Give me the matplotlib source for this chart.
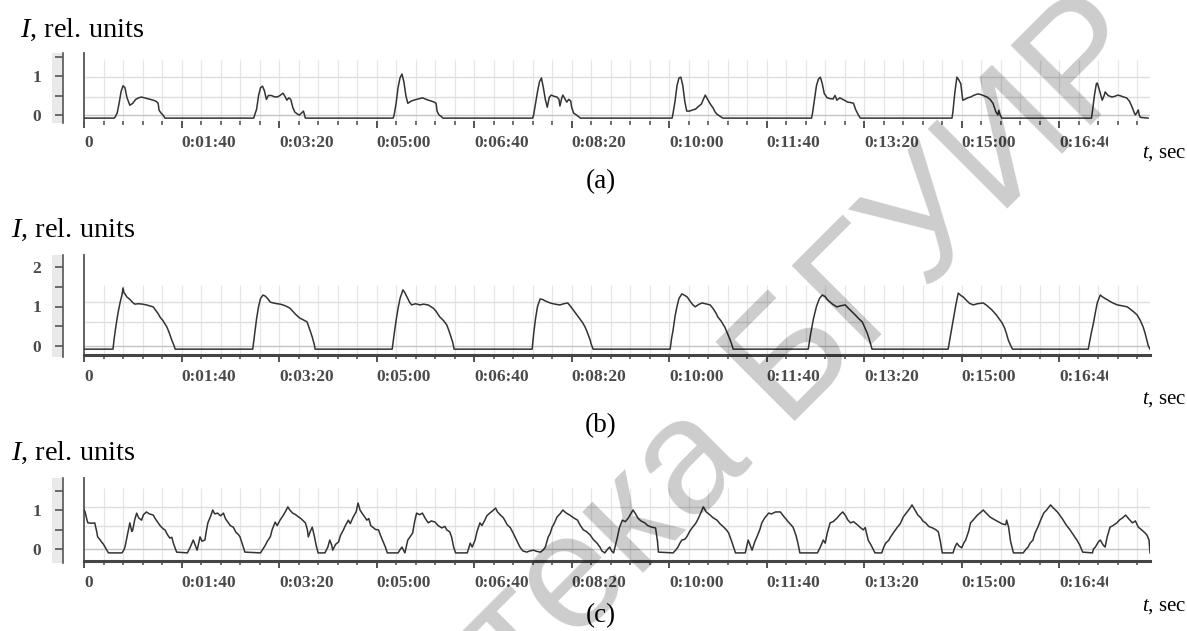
import matplotlib
matplotlib.use("Agg")
import matplotlib.pyplot as plt
from matplotlib.patches import Rectangle

plt.rcParams['font.family'] = ['Liberation Serif', 'DejaVu Serif']
plt.rcParams['mathtext.fontset'] = 'custom'
plt.rcParams['mathtext.rm'] = 'Liberation Serif'
plt.rcParams['mathtext.it'] = 'Liberation Serif:italic'

# time ticks (s) and labels
tick_times = [0, 100, 200, 300, 400, 500, 600, 700, 800, 900, 1000]
tick_labels = ["0", "0:01:40", "0:03:20", "0:05:00", "0:06:40", "0:08:20",
               "0:10:00", "0:11:40", "0:13:20", "0:15:00", "0:16:40"]
minor_times = list(range(0, 1093, 20))
t_end = 1093

# (a) signal: (t, I)
signal_a = [
    (0, -0.08), (31, -0.08), (32, -0.05), (34, 0.05), (36, 0.3), (38, 0.6), (40, 0.75), (42, 0.7),
    (44, 0.45), (47, 0.25), (50, 0.3), (53, 0.4), (56, 0.44), (59, 0.46), (62, 0.44), (65, 0.42),
    (68, 0.4), (71, 0.38), (74, 0.35), (76, 0.3), (77, 0.12), (79, 0.05), (81, 0.0), (83, -0.08),
    (174, -0.08), (175, 0.0), (177, 0.15), (179, 0.5), (181, 0.7), (183, 0.74), (185, 0.62), (187, 0.4),
    (189, 0.5), (192, 0.5), (195, 0.47), (198, 0.46), (201, 0.5), (204, 0.56), (206, 0.48), (208, 0.38),
    (210, 0.44), (212, 0.4), (214, 0.2), (216, 0.08), (219, 0.02), (221, 0.0), (223, 0.05), (225, 0.1),
    (227, -0.08),
    (317, -0.08), (318, 0.0), (320, 0.3), (322, 0.7), (324, 0.95), (326, 1.05), (328, 0.85), (330, 0.5),
    (332, 0.3), (335, 0.35), (338, 0.38), (341, 0.4), (344, 0.42), (347, 0.44), (350, 0.41), (353, 0.38),
    (356, 0.36), (359, 0.33), (361, 0.3), (362, 0.1), (364, 0.0), (366, -0.03), (368, -0.08),
    (460, -0.08), (461, 0.0), (463, 0.3), (465, 0.6), (467, 0.85), (469, 0.95), (471, 0.7), (473, 0.4),
    (475, 0.2), (477, 0.45), (479, 0.51), (482, 0.48), (485, 0.46), (487, 0.4), (488, 0.23), (490, 0.45),
    (491, 0.51), (493, 0.42), (495, 0.33), (497, 0.4), (499, 0.36), (500, 0.2), (502, 0.05), (505, 0.0),
    (509, -0.08),
    (603, -0.08), (604, 0.05), (606, 0.35), (608, 0.75), (610, 0.95), (612, 0.97), (614, 0.75), (616, 0.35),
    (618, 0.1), (621, 0.1), (624, 0.13), (627, 0.15), (630, 0.22), (633, 0.28), (635, 0.4), (637, 0.51),
    (639, 0.42), (641, 0.33), (643, 0.25), (645, 0.18), (647, 0.08), (649, 0.02), (652, -0.03), (655, -0.08),
    (746, -0.08), (747, 0.05), (749, 0.4), (751, 0.75), (753, 0.92), (755, 0.97), (757, 0.8), (759, 0.55),
    (762, 0.44), (765, 0.42), (768, 0.41), (770, 0.5), (772, 0.38), (775, 0.44), (778, 0.4), (781, 0.36),
    (783, 0.33), (786, 0.32), (789, 0.3), (791, 0.15), (794, 0.0), (796, -0.08),
    (890, -0.08), (891, 0.1), (893, 0.6), (895, 0.97), (897, 0.9), (899, 0.8), (901, 0.38), (903, 0.4),
    (906, 0.44), (909, 0.46), (912, 0.5), (915, 0.53), (917, 0.54), (920, 0.52), (923, 0.49), (926, 0.46),
    (929, 0.4), (932, 0.3), (934, 0.15), (935, 0.08), (937, 0.0), (938, 0.12), (939, 0.02), (941, -0.08),
    (1033, -0.08), (1034, 0.1), (1036, 0.5), (1038, 0.8), (1039, 0.82), (1041, 0.65), (1044, 0.38),
    (1046, 0.5), (1047, 0.59), (1050, 0.5), (1054, 0.46), (1057, 0.48), (1060, 0.51), (1063, 0.49),
    (1066, 0.46), (1069, 0.44), (1072, 0.35), (1075, 0.18), (1077, 0.05), (1078, 0.0), (1080, 0.08),
    (1081, 0.13), (1082, 0.0), (1083, -0.06), (1091, -0.08),
]

# (b) signal
signal_b = [
    (0, -0.08), (29.7, -0.08), (31, 0.2), (33, 0.55), (35, 0.85), (37, 1.1), (39, 1.3), (40, 1.47),
    (41, 1.35), (42, 1.32), (44, 1.24), (47, 1.18), (50, 1.1), (52, 1.06), (56, 1.07), (60, 1.06),
    (64, 1.04), (68, 1.01), (71, 0.99), (73, 0.92), (76, 0.82), (78, 0.73), (81, 0.64), (83, 0.56),
    (85, 0.48), (87, 0.36), (89, 0.22), (90, 0.15), (92, 0.03), (93.5, -0.08),
    (173, -0.08), (175, 0.3), (177, 0.7), (179, 1.0), (181, 1.2), (183.5, 1.29), (186, 1.26), (189, 1.18),
    (191, 1.11), (194, 1.09), (198, 1.07), (201, 1.06), (204, 1.04), (208, 1.0), (211, 0.96), (214, 0.88),
    (217, 0.8), (221, 0.71), (225, 0.66), (228.7, 0.61), (231, 0.45), (234, 0.23), (236, 0.05), (237, -0.08),
    (316, -0.08), (318, 0.3), (320, 0.65), (322, 0.95), (324, 1.2), (327, 1.42), (329, 1.35), (331, 1.25),
    (334, 1.1), (336, 1.04), (340, 1.07), (344.6, 1.04), (348, 1.06), (352.8, 1.04), (356, 0.99),
    (358, 0.96), (361, 0.88), (363, 0.8), (365, 0.73), (368, 0.66), (370, 0.6), (372, 0.53), (374, 0.4),
    (376, 0.25), (378, 0.1), (379.5, -0.08),
    (459.5, -0.08), (461, 0.3), (463, 0.7), (465, 1.0), (467.7, 1.19), (470, 1.18), (473, 1.14),
    (477.9, 1.09), (481, 1.07), (485, 1.05), (488, 1.04), (492, 1.07), (496, 1.09), (499, 1.0), (502, 0.9),
    (505.6, 0.78), (508, 0.7), (511, 0.6), (513.8, 0.48), (516, 0.35), (519, 0.15), (520, 0.05), (522, -0.08),
    (601, -0.08), (602.5, 0.2), (604, 0.4), (606, 0.75), (608, 1.0), (610, 1.2), (613, 1.32), (616, 1.28),
    (618.5, 1.24), (621, 1.15), (624, 1.05), (626.7, 0.99), (630, 1.05), (633.8, 1.09), (637, 1.07),
    (642, 1.04), (645, 0.95), (648, 0.83), (650, 0.73), (653, 0.64), (657, 0.48), (660, 0.3), (662.6, 0.15),
    (664, 0.05), (665.6, -0.08),
    (742.6, -0.08), (745, 0.3), (748, 0.7), (751, 1.0), (754, 1.2), (757, 1.29), (760, 1.25), (762, 1.18),
    (765, 1.11), (768, 1.05), (772, 0.99), (776, 1.02), (780.5, 1.04), (784, 0.95), (787.7, 0.86),
    (791, 0.78), (794, 0.7), (798, 0.61), (800, 0.5), (803, 0.33), (805, 0.18), (806.5, 0.05), (808, -0.08),
    (886, -0.08), (888, 0.2), (890, 0.48), (892, 0.75), (894, 1.05), (896.4, 1.34), (899, 1.28),
    (901.5, 1.24), (905, 1.15), (908, 1.08), (911.8, 1.04), (916, 1.07), (922, 1.09), (926, 1.02),
    (931, 0.91), (935, 0.8), (938, 0.7), (941.5, 0.58), (944, 0.45), (946, 0.3), (947.7, 0.15),
    (950, 0.02), (952, -0.08),
    (1029.7, -0.08), (1031, 0.1), (1033, 0.35), (1035, 0.58), (1037, 0.85), (1039, 1.1), (1042, 1.29),
    (1044, 1.25), (1047, 1.2), (1050, 1.16), (1054, 1.1), (1059.5, 1.04), (1064, 1.02), (1069.7, 0.99),
    (1073, 0.93), (1077, 0.85), (1080, 0.78), (1083, 0.65), (1086, 0.48), (1088, 0.32), (1090, 0.12),
    (1091.3, 0.0), (1093, -0.08),
]

# (c) signal
signal_c = [
    (0, 1.0), (1, 0.96), (3, 0.75), (4, 0.67), (8, 0.66), (11, 0.67), (13, 0.45), (14, 0.31), (16, 0.25),
    (18, 0.18), (20, 0.12), (22, 0.03), (25, -0.1), (39, -0.1), (41, -0.02), (42, 0.05), (44, 0.3),
    (46, 0.55), (47, 0.67), (49, 0.45), (50, 0.49), (52, 0.75), (54, 0.92), (56, 0.8), (59, 0.74),
    (61, 0.88), (64, 0.95), (67, 0.9), (71, 0.87), (73, 0.78), (76, 0.67), (78, 0.6), (81, 0.52),
    (83, 0.49), (86, 0.35), (88, 0.28), (90, 0.3), (92, 0.12), (95, -0.08), (106, -0.1), (109, 0.05),
    (112, 0.23), (114, 0.1), (116, -0.03), (119, 0.31), (121, 0.2), (124, 0.23), (125, 0.4), (127, 0.67),
    (130, 0.85), (132, 1.0), (134, 0.9), (137, 0.92), (140, 0.85), (143, 0.92), (145, 0.78), (148, 0.67),
    (150, 0.6), (153, 0.56), (156, 0.42), (158, 0.38), (160, 0.31), (162, 0.15), (165, -0.08), (181, -0.1),
    (183, -0.02), (186, 0.1), (188, 0.2), (191, 0.31), (193, 0.5), (196, 0.69), (198, 0.6), (201, 0.74),
    (204, 0.85), (207, 0.98), (209, 1.08), (211, 1.0), (214, 0.92), (217, 0.88), (220, 0.82), (222, 0.79),
    (225, 0.72), (227, 0.67), (229, 0.5), (230, 0.31), (232, 0.45), (234, 0.56), (236, 0.35), (238, 0.1),
    (240, -0.1), (247, -0.1), (250, 0.05), (252, 0.23), (254, 0.1), (255, -0.03), (258, 0.12), (261, 0.18),
    (263, 0.35), (266, 0.49), (268, 0.6), (271, 0.74), (273, 0.65), (276, 0.82), (279, 0.95), (281, 1.18),
    (283, 1.0), (285, 0.92), (287, 0.85), (290, 0.74), (292, 0.78), (294, 0.6), (296, 0.56), (299, 0.5),
    (302, 0.49), (304, 0.35), (306, 0.23), (309, 0.05), (311, -0.1), (322, -0.1), (324, -0.02), (326, 0.05),
    (328, -0.05), (329, -0.1), (332, 0.23), (334, 0.3), (337, 0.41), (339, 0.7), (341, 0.92), (344, 0.88),
    (347, 0.92), (350, 0.78), (353, 0.67), (356, 0.72), (360, 0.69), (363, 0.6), (367, 0.54), (370, 0.58),
    (372, 0.49), (375, 0.44), (377, 0.3), (379, 0.05), (381, -0.1), (393, -0.1), (396, 0.15), (398, 0.05),
    (401, 0.23), (403, 0.45), (406, 0.67), (408, 0.6), (411, 0.74), (413, 0.85), (416, 0.92), (419, 0.98),
    (422, 1.05), (424, 0.95), (427, 0.87), (430, 0.8), (434, 0.62), (437, 0.55), (440, 0.41), (443, 0.25),
    (445, 0.15), (447, 0.05), (450, -0.05), (454, -0.08), (457, -0.05), (461, -0.03), (464, -0.06),
    (468, -0.08), (471, -0.02), (473, 0.05), (476, 0.31), (478, 0.4), (480, 0.56), (482, 0.65), (485, 0.82),
    (488, 0.9), (491, 1.0), (494, 0.93), (498, 0.87), (502, 0.8), (506, 0.74), (509, 0.6), (512, 0.49),
    (515, 0.45), (519, 0.36), (522, 0.25), (526, 0.15), (529, 0.05), (531, -0.05), (534, -0.1), (537, 0.0),
    (539, 0.05), (541, -0.05), (543, -0.1), (545, 0.1), (547, 0.31), (549, 0.55), (552, 0.74), (555, 0.7),
    (558, 0.79), (561, 0.92), (563, 1.0), (566, 0.88), (568, 0.79), (571, 0.72), (575, 0.67), (578, 0.6),
    (582, 0.56), (586, 0.54), (588, 0.2), (589, -0.08), (604, -0.1), (607, -0.02), (609, 0.05), (611, 0.15),
    (613, 0.23), (616, 0.25), (618, 0.31), (621, 0.45), (624, 0.56), (627, 0.65), (629, 0.74), (632, 0.9),
    (635, 1.08), (638, 0.95), (642, 0.87), (645, 0.8), (649, 0.74), (652, 0.65), (656, 0.56), (659, 0.48),
    (661, 0.41), (664, 0.2), (668, -0.1), (678, -0.1), (681, 0.23), (683, 0.1), (685, -0.03), (688, 0.2),
    (690, 0.31), (693, 0.5), (695, 0.67), (698, 0.8), (702, 0.92), (705, 0.9), (709, 0.95), (714, 0.95),
    (717, 0.85), (719, 0.79), (722, 0.7), (727, 0.56), (730, 0.35), (732, 0.15), (734, -0.1), (752, -0.1),
    (755, 0.05), (758, 0.23), (760, 0.15), (762, 0.4), (765, 0.67), (768, 0.7), (772, 0.79), (775, 0.88),
    (778, 0.95), (781, 0.85), (783, 0.75), (786, 0.67), (789, 0.7), (793, 0.62), (796, 0.55), (799, 0.49),
    (801, 0.55), (804, 0.23), (807, 0.1), (811, -0.1), (818, -0.1), (820, 0.05), (822, 0.15), (825, 0.22),
    (827, 0.31), (830, 0.42), (834, 0.56), (837, 0.65), (840, 0.82), (844, 0.95), (847, 1.05), (849, 1.13),
    (852, 1.0), (855, 0.87), (858, 0.8), (860, 0.72), (863, 0.67), (866, 0.58), (870, 0.54), (873, 0.5),
    (876, 0.44), (878, 0.2), (880, -0.1), (891, -0.1), (893, 0.05), (895, 0.15), (897, 0.08), (900, 0.03),
    (902, 0.15), (904, 0.23), (907, 0.45), (909, 0.67), (912, 0.75), (916, 0.87), (919, 0.93), (922, 1.0),
    (925, 0.92), (929, 0.82), (933, 0.76), (938, 0.69), (941, 0.65), (945, 0.62), (946, 0.74), (948, 0.56),
    (950, 0.2), (953, -0.1), (963, -0.1), (966, 0.0), (968, 0.05), (970, 0.15), (973, 0.23), (975, 0.4),
    (978, 0.56), (981, 0.75), (984, 0.92), (987, 1.0), (991, 1.13), (994, 1.05), (998, 0.95), (1001, 0.85),
    (1004, 0.74), (1007, 0.62), (1011, 0.49), (1014, 0.38), (1018, 0.23), (1021, 0.1), (1024, -0.08),
    (1034, -0.1), (1035, 0.0), (1037, 0.05), (1040, 0.18), (1042, 0.23), (1045, 0.1), (1047, 0.05),
    (1049, 0.3), (1052, 0.56), (1055, 0.6), (1059, 0.67), (1062, 0.75), (1065, 0.8), (1068, 0.87),
    (1071, 0.78), (1075, 0.67), (1078, 0.72), (1081, 0.56), (1084, 0.5), (1088, 0.41), (1090, 0.35),
    (1092, 0.23), (1093, -0.1),
]

W, H = 1187, 631
fig = plt.figure(figsize=(W / 100, H / 100), dpi=100)


def px_rect(l, t, r, b):
    return [l / W, 1 - b / H, (r - l) / W, (b - t) / H]


def ftext(x, y, s, **kw):
    return fig.text(x / W, 1 - y / H, s, **kw)


def draw_panel(sig, top, bottom, zero_y, unit, grid_rows, grid_top, strip_ticks, strip_labels, heavy):
    y_lo = (zero_y - bottom) / unit
    y_hi = (zero_y - top) / unit
    ax = fig.add_axes(px_rect(84, top, 1150, bottom))
    ax.set_xlim(0, t_end)
    ax.set_ylim(y_lo, y_hi)
    ax.vlines(minor_times[1:], y_lo, grid_top, color='#e6e6e6', lw=0.9, zorder=1)
    ax.hlines(grid_rows, 0, t_end, color='#dedede', lw=1.0, zorder=1)
    ax.axhline(0, color='#c4c4c4', lw=1.0, zorder=1)
    t, v = zip(*sig)
    ax.plot(t, v, color='#333333', lw=1.1, zorder=3)
    for s in ['top', 'right']:
        ax.spines[s].set_visible(False)
    ax.spines['left'].set_color('#555555')
    ax.spines['left'].set_linewidth(1.3)
    if heavy:
        ax.spines['bottom'].set_color('#454545')
        ax.spines['bottom'].set_linewidth(2.2)
    else:
        ax.spines['bottom'].set_visible(False)
    ax.set_yticks([])
    ax.set_xticks(tick_times)
    ax.set_xticklabels(tick_labels, ha='left', fontsize=12.5, fontweight='bold', color='#4a4a4a')
    ax.set_xticks(minor_times, minor=True)
    ax.tick_params(axis='x', which='major', length=5, width=1.3, color='#444444', pad=5)
    ax.tick_params(axis='x', which='minor', length=3, width=1.2, color='#555555')
    ax.set_facecolor('none')

    st = fig.add_axes(px_rect(52, top, 63, bottom + 2))
    st.set_facecolor('#e9e9e9')
    st.set_ylim(y_lo - 2 / unit, y_hi)
    st.set_xticks([])
    for s in ['top', 'left', 'bottom']:
        st.spines[s].set_visible(False)
    st.spines['right'].set_color('#555555')
    st.spines['right'].set_linewidth(1.2)
    st.set_yticks(strip_ticks)
    st.set_yticklabels(strip_labels, fontsize=12.5, fontweight='bold', color='#4a4a4a')
    st.tick_params(axis='y', left=False, right=True, labelleft=True, labelright=False,
                   direction='in', length=6, width=1.2, color='#555555', pad=8)
    return ax


draw_panel(signal_a, 53, 121, 115, 39.0, [0.97, 0.46], 1.41,
           [0, 0.5, 1, 1.5], ["0", "", "1", ""], False)
draw_panel(signal_b, 255, 355, 346, 39.5, [1.11, 0.62], 1.54,
           [0, 0.5, 1, 1.5, 2], ["0", "", "1", "", "2"], True)
draw_panel(signal_c, 478, 561, 549, 39.0, [1.08, 0.59], 1.56,
           [0, 0.5, 1, 1.5], ["0", "", "1", ""], True)

# clipped last tick label as in the source
for y0 in [128, 364, 570]:
    fig.add_artist(Rectangle((1108 / W, 1 - (y0 + 22) / H), 30 / W, 22 / H,
                             transform=fig.transFigure, facecolor='white', edgecolor='none', zorder=5))

title = "$I$, rel. units"
ftext(20, 37, title, fontsize=20.5, va='baseline')
ftext(11, 237, title, fontsize=20.5, va='baseline')
ftext(11, 460, title, fontsize=20.5, va='baseline')

for y in [158, 404, 611]:
    ftext(1142, y, "$t$, sec", fontsize=15, va='baseline')

ftext(601, 188, "(a)", fontsize=19.5, ha='center', va='baseline')
ftext(601, 432, "(b)", fontsize=19.5, ha='center', va='baseline')
ftext(601, 622, "(c)", fontsize=19.5, ha='center', va='baseline')

# library watermark
ftext(612, 545, "Библиотека БГУИР", fontsize=118, family='Liberation Sans', rotation=45,
      rotation_mode='anchor', ha='center', va='center', color='black', alpha=0.2, zorder=20)

fig.savefig("out.png", dpi=100)
